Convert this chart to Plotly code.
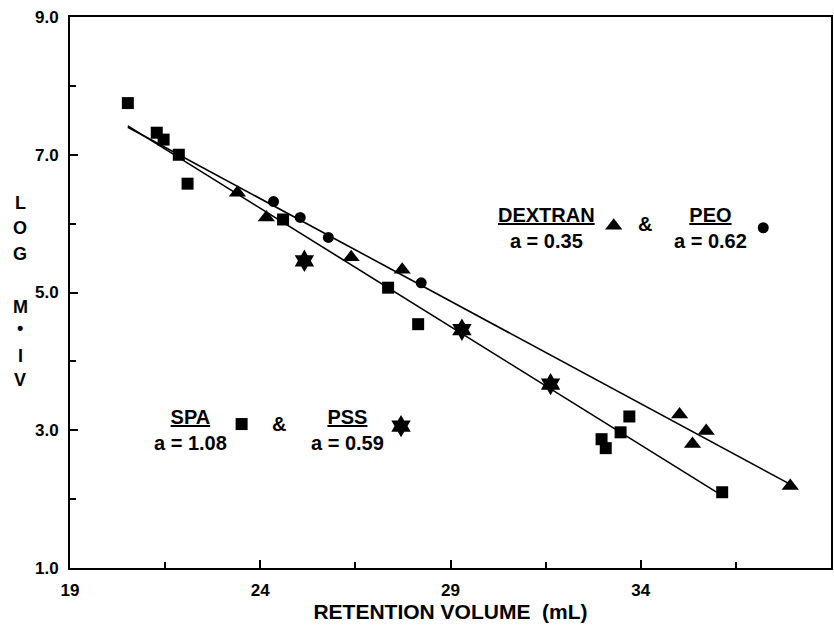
import plotly.graph_objects as go

# ---- data (retention volume mL, log M[eta]) ----
spa_x = [20.52, 21.28, 21.46, 21.86, 22.09, 24.60, 27.36, 28.15, 32.97, 33.08, 33.47, 33.70, 36.14]
spa_y = [7.75, 7.32, 7.22, 7.00, 6.58, 6.06, 5.07, 4.54, 2.87, 2.74, 2.97, 3.20, 2.10]

dex_x = [23.40, 24.16, 26.39, 27.73, 35.02, 35.36, 35.72, 37.93]
dex_y = [6.45, 6.09, 5.51, 5.33, 3.23, 2.80, 2.99, 2.19]

peo_x = [24.35, 25.05, 25.79, 28.23]
peo_y = [6.32, 6.09, 5.80, 5.14]

pss_x = [25.16, 29.30, 31.63]
pss_y = [5.46, 4.46, 3.67]

# fitted calibration lines (end points)
fit_lower_x = [20.52, 36.17]
fit_lower_y = [7.42, 2.04]
fit_upper_x = [20.52, 38.08]
fit_upper_y = [7.40, 2.17]

# key (legend) entries
key_labels = ["DEXTRAN", "PEO", "SPA", "PSS"]
key_avals = ["a = 0.35", "a = 0.62", "a = 1.08", "a = 0.59"]
key_text_x = [31.53, 35.83, 22.17, 26.29]
key_text_y = [5.93, 5.93, 3.00, 3.00]
key_sym_x = [33.29, 37.22, 23.51, 27.70]
key_sym_y = [5.97, 5.94, 3.09, 3.06]
amp_x = [34.12, 24.50]
amp_y = [5.99, 3.09]

x_ticks = [19, 24, 29, 34, 39]
y_ticks = [1.0, 3.0, 5.0, 7.0, 9.0]

ytitle_letters = ["L", "O", "G", "M", "\u2022", "I", "V"]
ytitle_py = [203, 228, 254, 307, 328, 356, 380]

FONT = "Liberation Sans, Arial, sans-serif"
BLACK = "black"

fig = go.Figure()

fig.add_trace(go.Scatter(x=fit_lower_x, y=fit_lower_y, mode="lines",
                         line=dict(color=BLACK, width=1.6), showlegend=False))
fig.add_trace(go.Scatter(x=fit_upper_x, y=fit_upper_y, mode="lines",
                         line=dict(color=BLACK, width=1.6), showlegend=False))

fig.add_trace(go.Scatter(x=spa_x, y=spa_y, mode="markers",
                         marker=dict(symbol="square", size=12, color=BLACK), showlegend=False))
fig.add_trace(go.Scatter(x=dex_x, y=dex_y, mode="markers",
                         marker=dict(symbol="triangle-up", size=15, color=BLACK), showlegend=False))
fig.add_trace(go.Scatter(x=peo_x, y=peo_y, mode="markers",
                         marker=dict(symbol="circle", size=11, color=BLACK), showlegend=False))
fig.add_trace(go.Scatter(x=pss_x, y=pss_y, mode="markers",
                         marker=dict(symbol="hexagram", size=17, color=BLACK), showlegend=False))

# key symbols
key_symbols = ["triangle-up", "circle", "square", "hexagram"]
key_sizes = [15, 11, 12, 17]
for sx, sy, sym, sz in zip(key_sym_x, key_sym_y, key_symbols, key_sizes):
    fig.add_trace(go.Scatter(x=[sx], y=[sy], mode="markers",
                             marker=dict(symbol=sym, size=sz, color=BLACK),
                             showlegend=False))

annotations = []
for lab, av, tx, ty in zip(key_labels, key_avals, key_text_x, key_text_y):
    annotations.append(dict(x=tx, y=ty, xref="x", yref="y", showarrow=False,
                            text=f"<b><u>{lab}</u></b><br><b>{av}</b>",
                            font=dict(family=FONT, size=20, color=BLACK),
                            align="center", xanchor="center", yanchor="middle"))
for ax_, ay_ in zip(amp_x, amp_y):
    annotations.append(dict(x=ax_, y=ay_, xref="x", yref="y", showarrow=False,
                            text="<b>&</b>", font=dict(family=FONT, size=20, color=BLACK),
                            xanchor="center", yanchor="middle"))

# vertical stacked y-axis title
L, T, B, R = 70, 17, 59, 1
plot_h = 627 - T - B
plot_w = 834 - L - R
for letter, py in zip(ytitle_letters, ytitle_py):
    annotations.append(dict(x=(20 - L) / plot_w, y=(627 - B - py) / plot_h,
                            xref="paper", yref="paper", showarrow=False,
                            text=f"<b>{letter}</b>",
                            font=dict(family=FONT, size=18, color=BLACK),
                            xanchor="center", yanchor="middle"))

fig.update_layout(
    width=834, height=627,
    margin=dict(l=L, r=R, t=T, b=B, pad=0),
    paper_bgcolor="white", plot_bgcolor="white",
    showlegend=False,
    annotations=annotations,
    xaxis=dict(range=[19, 39], tickvals=x_ticks,
               ticktext=[f"<b>{v}</b>" for v in x_ticks],
               showgrid=False, zeroline=False,
               showline=True, linecolor=BLACK, linewidth=2, mirror=True,
               ticks="inside", ticklen=8, tickwidth=1.5, tickcolor=BLACK,
               minor=dict(dtick=2.5, tick0=19, ticks="inside", ticklen=6,
                          tickwidth=1.5, tickcolor=BLACK),
               tickfont=dict(family=FONT, size=17, color=BLACK),
               ticklabelstandoff=6,
               title=dict(text="<b>RETENTION VOLUME&nbsp;&nbsp;(mL)</b>",
                          font=dict(family=FONT, size=21, color=BLACK),
                          standoff=4)),
    yaxis=dict(range=[1, 9], tickvals=y_ticks,
               ticktext=[f"<b>{v:.1f}</b>" for v in y_ticks],
               showgrid=False, zeroline=False,
               showline=True, linecolor=BLACK, linewidth=2, mirror=True,
               ticks="inside", ticklen=8, tickwidth=1.5, tickcolor=BLACK,
               minor=dict(dtick=1, tick0=1, ticks="inside", ticklen=6,
                          tickwidth=1.5, tickcolor=BLACK),
               tickfont=dict(family=FONT, size=17, color=BLACK),
               ticklabelstandoff=6),
)

fig.update_traces(cliponaxis=False)

fig.write_html("out.html")
